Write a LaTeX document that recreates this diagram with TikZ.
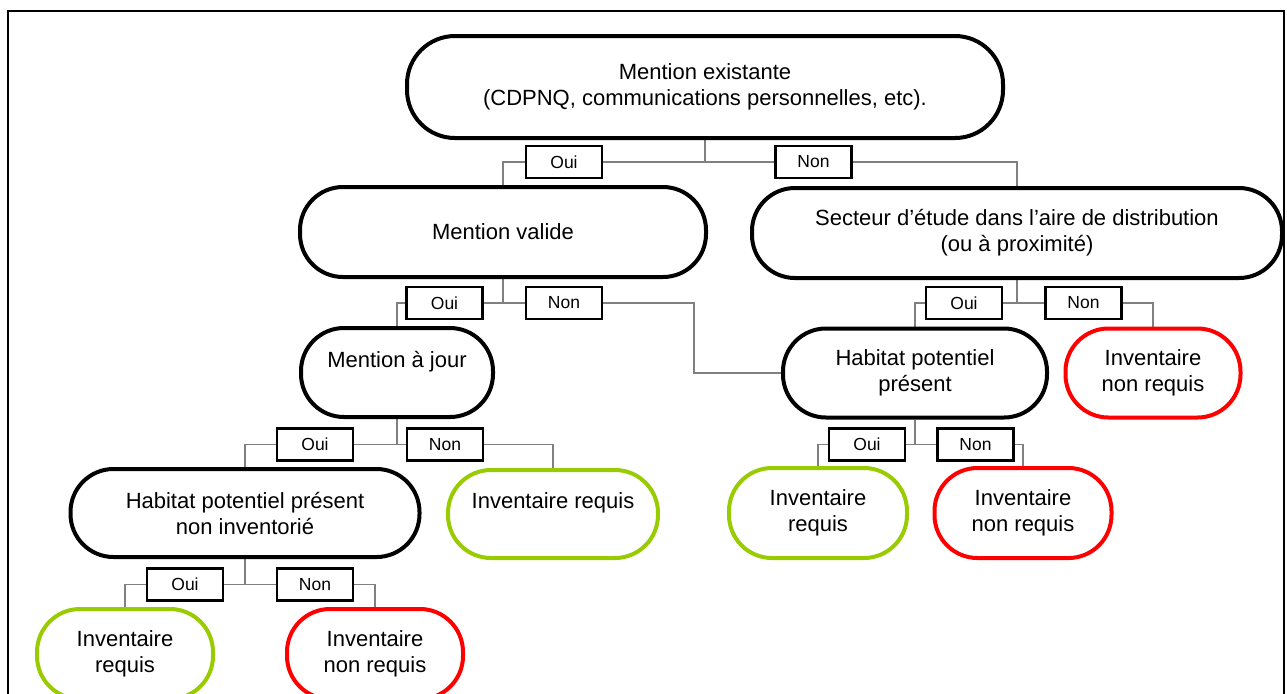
\documentclass[tikz,border=0pt]{standalone}
\usepackage{fontspec}
\setmainfont{Liberation Sans}
\usepackage{xcolor}
\usepackage{tikz}
\usetikzlibrary{positioning, calc, backgrounds}

\definecolor{reqgreen}{RGB}{153,204,0}
\definecolor{nonred}{RGB}{255,0,0}

\begin{document}
\begin{tikzpicture}[x=0.5pt, y=-0.5pt,
    decision/.style={draw, line width=2pt, rounded corners=21.5pt, fill=white, align=center, inner sep=0pt, font=\fontsize{11}{13}\selectfont},
    required/.style={decision, draw=reqgreen},
    notrequired/.style={decision, draw=nonred},
    answer/.style={draw, line width=1.1pt, fill=white, minimum width=38pt, minimum height=16pt, inner sep=0pt, font=\fontsize{8.75}{10}\selectfont},
    link/.style={draw=gray, line width=0.8pt}]
      \useasboundingbox (0,0) rectangle (1287,693);
      \draw[line width=1pt] (8,11) rectangle (1284,720);

      % decisions
      \node[decision, rounded corners=24pt, minimum width=298pt, minimum height=51pt] (exist) at (705,87) {Mention existante\\(CDPNQ, communications personnelles, etc).};
      \node[decision, minimum width=203pt, minimum height=45pt] (valide) at (503,232) {Mention valide};
      \node[decision, minimum width=265pt, minimum height=45pt] (secteur) at (1017,233) {Secteur d’étude dans l’aire de distribution\\(ou à proximité)};
      \node[decision, minimum width=96pt, minimum height=44.5pt] (ajour) at (397,372.5) {Mention à jour\\~};
      \node[decision, minimum width=132pt, minimum height=44.5pt] (habitat) at (915,373) {Habitat potentiel\\présent};
      \node[decision, minimum width=174.5pt, minimum height=44pt] (noninv) at (245,513) {Habitat potentiel présent\\non inventorié};

      % outcomes
      \node[notrequired, minimum width=87.5pt, minimum height=44.5pt] (nonreqA) at (1153,373) {Inventaire\\non requis};
      \node[required, minimum width=105pt, minimum height=44pt] (reqA) at (553,514) {Inventaire requis\\~};
      \node[required, minimum width=89pt, minimum height=45pt] (reqB) at (818,513) {Inventaire\\requis};
      \node[notrequired, minimum width=88.5pt, minimum height=45pt] (nonreqB) at (1023,513) {Inventaire\\non requis};
      \node[required, minimum width=88pt, minimum height=45pt] (reqC) at (125,654) {Inventaire\\requis};
      \node[notrequired, minimum width=88pt, minimum height=45pt] (nonreqC) at (375,654) {Inventaire\\non requis};

      % answers
      \node[answer] (oui1) at (564,162) {Oui};
      \node[answer] (non1) at (813.5,162) {Non};
      \node[answer] (oui2) at (444.5,303) {Oui};
      \node[answer] (non2) at (564,303) {Non};
      \node[answer] (oui3) at (964,303) {Oui};
      \node[answer] (non3) at (1083.5,303) {Non};
      \node[answer] (oui4) at (315,444.5) {Oui};
      \node[answer] (non4) at (445,444.5) {Non};
      \node[answer] (oui5) at (867,444.5) {Oui};
      \node[answer] (non5) at (975.5,444.5) {Non};
      \node[answer] (oui6) at (185,584.5) {Oui};
      \node[answer] (non6) at (315,584.5) {Non};
      \coordinate (bend) at (694,303);

      \begin{scope}[on background layer]
        \draw[link] (exist.south) -- (exist.south |- oui1.east);
        \draw[link] (oui1.east) -- (non1.west);
        \draw[link] (oui1.west) -| (valide.north);
        \draw[link] (non1.east) -| (secteur.north);

        \draw[link] (valide.south) -- (valide.south |- oui2.east);
        \draw[link] (oui2.east) -- (non2.west);
        \draw[link] (oui2.west) -| (ajour.north);
        \draw[link] (non2.east) -- (bend) |- (habitat.west);

        \draw[link] (secteur.south) -- (secteur.south |- oui3.east);
        \draw[link] (oui3.east) -- (non3.west);
        \draw[link] (oui3.west) -| (habitat.north);
        \draw[link] (non3.east) -| (nonreqA.north);

        \draw[link] (ajour.south) -- (ajour.south |- oui4.east);
        \draw[link] (oui4.east) -- (non4.west);
        \draw[link] (oui4.west) -| (noninv.north);
        \draw[link] (non4.east) -| (reqA.north);

        \draw[link] (habitat.south) -- (habitat.south |- oui5.east);
        \draw[link] (oui5.east) -- (non5.west);
        \draw[link] (oui5.west) -| (reqB.north);
        \draw[link] (non5.east) -| (nonreqB.north);

        \draw[link] (noninv.south) -- (noninv.south |- oui6.east);
        \draw[link] (oui6.east) -- (non6.west);
        \draw[link] (oui6.west) -| (reqC.north);
        \draw[link] (non6.east) -| (nonreqC.north);
      \end{scope}
    \end{tikzpicture}
\end{document}
